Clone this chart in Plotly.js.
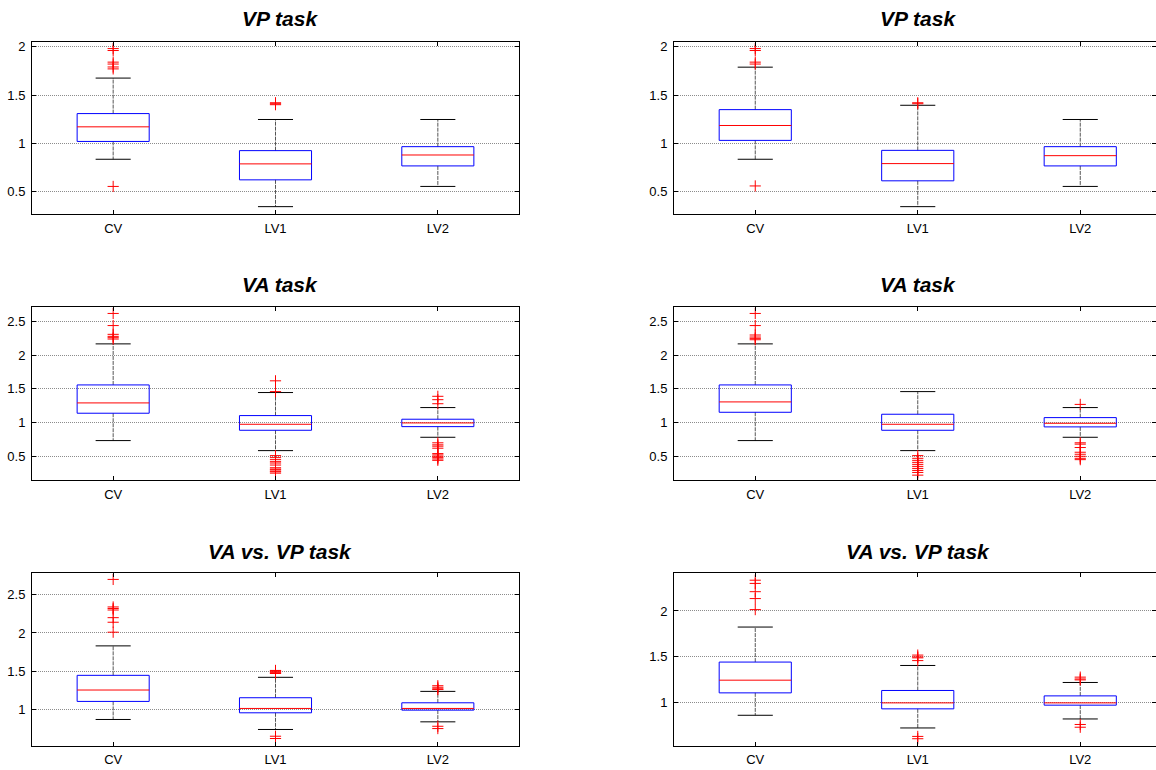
<!DOCTYPE html>
<html>
<head>
<meta charset="utf-8">
<script src="https://cdn.plot.ly/plotly-3.0.1.min.js"></script>
<style>html,body{margin:0;padding:0;background:#fff;}#chart{width:1156px;height:770px;}</style>
</head>
<body>
<div id="chart"></div>
<script>
// ---- data ----
const categories = ['CV', 'LV1', 'LV2'];
const panelTitles = ['VP task', 'VP task', 'VA task', 'VA task', 'VA vs. VP task', 'VA vs. VP task'];

// rows: panels (VP left, VP right, VA left, VA right, VA vs VP left, VA vs VP right); cols: CV, LV1, LV2
const lowerWhisker = [
  [0.836, 0.346, 0.555],
  [0.836, 0.346, 0.555],
  [0.733, 0.584, 0.782],
  [0.733, 0.584, 0.782],
  [0.869, 0.738, 0.838],
  [0.865, 0.727, 0.825]
];
const q1 = [
  [1.020, 0.623, 0.767],
  [1.031, 0.613, 0.767],
  [1.139, 0.886, 0.940],
  [1.153, 0.886, 0.936],
  [1.105, 0.956, 0.991],
  [1.109, 0.935, 0.975]
];
const medians = [
  [1.171, 0.788, 0.880],
  [1.185, 0.791, 0.873],
  [1.292, 0.975, 0.995],
  [1.307, 0.975, 0.990],
  [1.254, 1.013, 1.013],
  [1.247, 1.000, 1.000]
];
const q3 = [
  [1.308, 0.925, 0.966],
  [1.349, 0.928, 0.966],
  [1.559, 1.104, 1.050],
  [1.559, 1.124, 1.074],
  [1.446, 1.153, 1.087],
  [1.444, 1.135, 1.076]
];
const upperWhisker = [
  [1.675, 1.247, 1.247],
  [1.788, 1.394, 1.247],
  [2.168, 1.446, 1.223],
  [2.168, 1.460, 1.223],
  [1.831, 1.420, 1.236],
  [1.825, 1.407, 1.222]
];
const outliersCV = [
  [1.98, 1.96, 1.84, 1.82, 1.79, 1.77, 0.555],
  [1.98, 1.96, 1.84, 1.82, 0.56],
  [2.62, 2.44, 2.31, 2.28, 2.26, 2.24],
  [2.62, 2.44, 2.30, 2.27, 2.25, 2.23],
  [2.70, 2.34, 2.32, 2.30, 2.20, 2.14, 2.01],
  [2.335, 2.30, 2.21, 2.135, 2.015]
];
const outliersLV1 = [
  [1.42, 1.41, 1.40],
  [1.42, 1.41],
  [1.62, 1.46, 0.51, 0.48, 0.45, 0.42, 0.40, 0.37, 0.33, 0.31, 0.30, 0.28, 0.27, 0.25],
  [0.51, 0.47, 0.44, 0.41, 0.38, 0.35, 0.32, 0.29, 0.26, 0.22],
  [1.51, 1.50, 1.49, 1.48, 1.47, 0.65, 0.62],
  [1.52, 1.50, 1.49, 1.46, 0.635, 0.61]
];
const outliersLV2 = [
  [],
  [],
  [1.39, 1.34, 1.28, 0.70, 0.67, 0.65, 0.62, 0.54, 0.52, 0.50, 0.48, 0.46, 0.44],
  [1.27, 0.70, 0.68, 0.63, 0.56, 0.53, 0.50, 0.47, 0.45],
  [1.31, 1.29, 1.27, 1.26, 0.78, 0.75],
  [1.28, 1.26, 1.25, 0.765, 0.735]
];
const yRanges = [[0.27, 2.045], [0.27, 2.045], [0.148, 2.72], [0.148, 2.72], [0.526, 2.78], [0.534, 2.41]];

// ---- layout constants ----
const W = 1156, H = 770;
const BOX_HALF = 0.222, CAP_HALF = 0.108;
const colX = [[32 / W, 519 / W], [674 / W, 1]];
const colXRange = [[0.5, 3.5], [0.5, 0.5 + (W - 674) / 162.5]];
const rowPix = [[42.3, 214], [306.7, 480], [573.3, 745.7]];
const titleY = [18, 284, 551];
const titleX = [280 / W, 918 / W];
const FONT = '"Liberation Sans", Arial, Helvetica, sans-serif';

const traces = [];
const layout = {
  width: W, height: H,
  margin: {l: 0, r: 0, t: 0, b: 0},
  paper_bgcolor: '#ffffff', plot_bgcolor: '#ffffff',
  showlegend: false,
  font: {family: FONT, size: 12, color: '#000'},
  annotations: []
};

for (let p = 0; p < 6; p++) {
  const row = Math.floor(p / 2), col = p % 2;
  const ax = p === 0 ? '' : String(p + 1);
  const xa = 'x' + ax, ya = 'y' + ax;

  // boxes, medians, whiskers, caps
  const bx = [], by = [], mx = [], my = [], wx = [], wy = [], cx = [], cy = [];
  for (let c = 0; c < 3; c++) {
    const xc = c + 1;
    bx.push(xc - BOX_HALF, xc + BOX_HALF, xc + BOX_HALF, xc - BOX_HALF, xc - BOX_HALF, null);
    by.push(q1[p][c], q1[p][c], q3[p][c], q3[p][c], q1[p][c], null);
    mx.push(xc - BOX_HALF, xc + BOX_HALF, null);
    my.push(medians[p][c], medians[p][c], null);
    wx.push(xc, xc, null, xc, xc, null);
    wy.push(q3[p][c], upperWhisker[p][c], null, q1[p][c], lowerWhisker[p][c], null);
    cx.push(xc - CAP_HALF, xc + CAP_HALF, null, xc - CAP_HALF, xc + CAP_HALF, null);
    cy.push(upperWhisker[p][c], upperWhisker[p][c], null, lowerWhisker[p][c], lowerWhisker[p][c], null);
  }
  traces.push({type: 'scatter', mode: 'lines', x: wx, y: wy, xaxis: xa, yaxis: ya,
    line: {color: '#555', width: 1, dash: '4px,1px'}, hoverinfo: 'skip'});
  traces.push({type: 'scatter', mode: 'lines', x: cx, y: cy, xaxis: xa, yaxis: ya,
    line: {color: '#000', width: 1}, hoverinfo: 'skip'});
  traces.push({type: 'scatter', mode: 'lines', x: bx, y: by, xaxis: xa, yaxis: ya,
    line: {color: '#0000ff', width: 1}, hoverinfo: 'skip'});
  traces.push({type: 'scatter', mode: 'lines', x: mx, y: my, xaxis: xa, yaxis: ya,
    line: {color: '#ff0000', width: 1}, hoverinfo: 'skip'});

  // outliers
  const ox = [], oy = [];
  [outliersCV[p], outliersLV1[p], outliersLV2[p]].forEach((arr, c) => {
    arr.forEach(v => { ox.push(c + 1); oy.push(v); });
  });
  traces.push({type: 'scatter', mode: 'markers', x: ox, y: oy, xaxis: xa, yaxis: ya,
    marker: {symbol: 'cross-thin-open', size: 8, color: '#ff0000', line: {color: '#ff0000', width: 1}},
    hoverinfo: 'skip'});

  layout['xaxis' + ax] = {
    domain: colX[col], range: colXRange[col], anchor: ya,
    tickvals: [1, 2, 3], ticktext: categories,
    ticks: 'inside', ticklen: 4, tickcolor: '#000', tickwidth: 1,
    showline: true, linecolor: '#000', linewidth: 1, mirror: 'ticks',
    showgrid: false, zeroline: false, fixedrange: true,
    tickfont: {family: FONT, size: 13, color: '#000'}, ticklabelstandoff: 2
  };
  layout['yaxis' + ax] = {
    domain: [(H - rowPix[row][1]) / H, (H - rowPix[row][0]) / H], range: yRanges[p], anchor: xa,
    dtick: 0.5, tick0: 0,
    ticks: 'inside', ticklen: 4, tickcolor: '#000', tickwidth: 1,
    showline: true, linecolor: '#000', linewidth: 1, mirror: 'ticks',
    showgrid: true, gridcolor: '#8c8c8c', griddash: '1px,1px', gridwidth: 1,
    zeroline: false, fixedrange: true,
    tickfont: {family: FONT, size: 13, color: '#000'}, ticklabelstandoff: 3
  };
  layout.annotations.push({
    text: '<b><i>' + panelTitles[p] + '</i></b>', xref: 'paper', yref: 'paper',
    x: titleX[col], y: (H - titleY[row]) / H, xanchor: 'center', yanchor: 'middle',
    showarrow: false, font: {family: FONT, size: 21, color: '#000'}
  });
}

Plotly.newPlot('chart', traces, layout, {staticPlot: true, displayModeBar: false});
</script>
</body>
</html>
